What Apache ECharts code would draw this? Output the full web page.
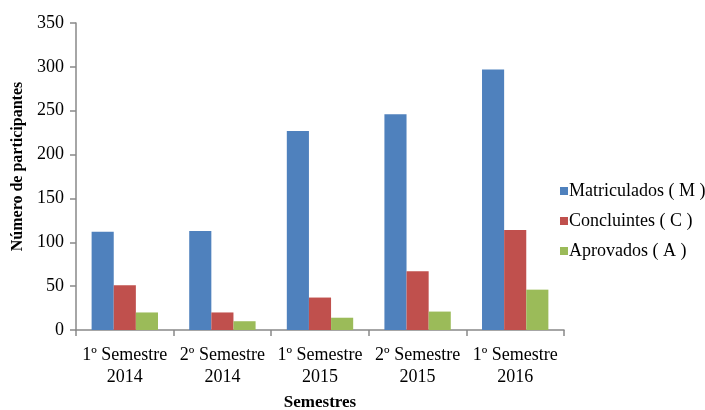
<!DOCTYPE html>
<html>
<head>
<meta charset="utf-8">
<script src="https://cdn.jsdelivr.net/npm/echarts@6/dist/echarts.min.js"></script>
<style>
  html, body { margin: 0; padding: 0; background: #fff; }
  #chart { width: 705px; height: 410px; }
</style>
</head>
<body>
<div id="chart"></div>
<script>
// categorias e valores
const categories = ['1º Semestre\n2014', '2º Semestre\n2014', '1º Semestre\n2015', '2º Semestre\n2015', '1º Semestre\n2016'];
const matriculados = [112, 113, 227, 246, 297];
const concluintes = [51, 20, 37, 67, 114];
const aprovados = [20, 10, 14, 21, 46];

const font = 'Liberation Serif';
const axisColor = '#898989';

const chart = echarts.init(document.getElementById('chart'));

const barStyle = (color) => ({
  type: 'bar',
  barGap: '0%',
  barCategoryGap: '32%',
  itemStyle: { color: color },
  emphasis: { disabled: true }
});

const option = {
  animation: false,
  textStyle: { fontFamily: font },
  grid: { left: 76, right: 141, top: 23, bottom: 80, outerBoundsMode: 'none', containLabel: false },
  legend: {
    orient: 'vertical',
    left: 555,
    top: 177,
    itemWidth: 8,
    itemHeight: 8,
    itemGap: 12,
    icon: 'rect',
    textStyle: { fontFamily: font, fontSize: 18, color: '#000', padding: [0, 0, 0, -4] },
    data: ['Matriculados ( M )', 'Concluintes ( C )', 'Aprovados ( A )']
  },
  xAxis: {
    type: 'category',
    data: categories,
    name: 'Semestres',
    nameLocation: 'middle',
    nameGap: 64,
    nameTextStyle: { fontFamily: font, fontSize: 17, fontWeight: 'bold', color: '#000' },
    axisLine: { lineStyle: { color: axisColor, width: 1.5 } },
    axisTick: { show: true, alignWithLabel: false, length: 6, lineStyle: { color: axisColor, width: 1.5 } },
    axisLabel: { interval: 0, fontFamily: font, fontSize: 18, color: '#000', lineHeight: 22, margin: 14 }
  },
  yAxis: {
    type: 'value',
    min: 0,
    max: 350,
    interval: 50,
    name: 'Número de participantes',
    nameLocation: 'middle',
    nameGap: 45,
    nameTextStyle: { fontFamily: font, fontSize: 16, fontWeight: 'bold', color: '#000', padding: [0, 0, 0, 20] },
    splitLine: { show: false },
    axisLine: { show: true, lineStyle: { color: axisColor, width: 1.5 } },
    axisTick: { show: true, length: 6, lineStyle: { color: axisColor, width: 1.5 } },
    axisLabel: { fontFamily: font, fontSize: 18, color: '#000', margin: 12 }
  },
  series: [
    Object.assign(barStyle('#4f81bd'), { name: 'Matriculados ( M )', data: matriculados }),
    Object.assign(barStyle('#c0504d'), { name: 'Concluintes ( C )', data: concluintes }),
    Object.assign(barStyle('#9bbb59'), { name: 'Aprovados ( A )', data: aprovados })
  ]
};

chart.setOption(option);
</script>
</body>
</html>
